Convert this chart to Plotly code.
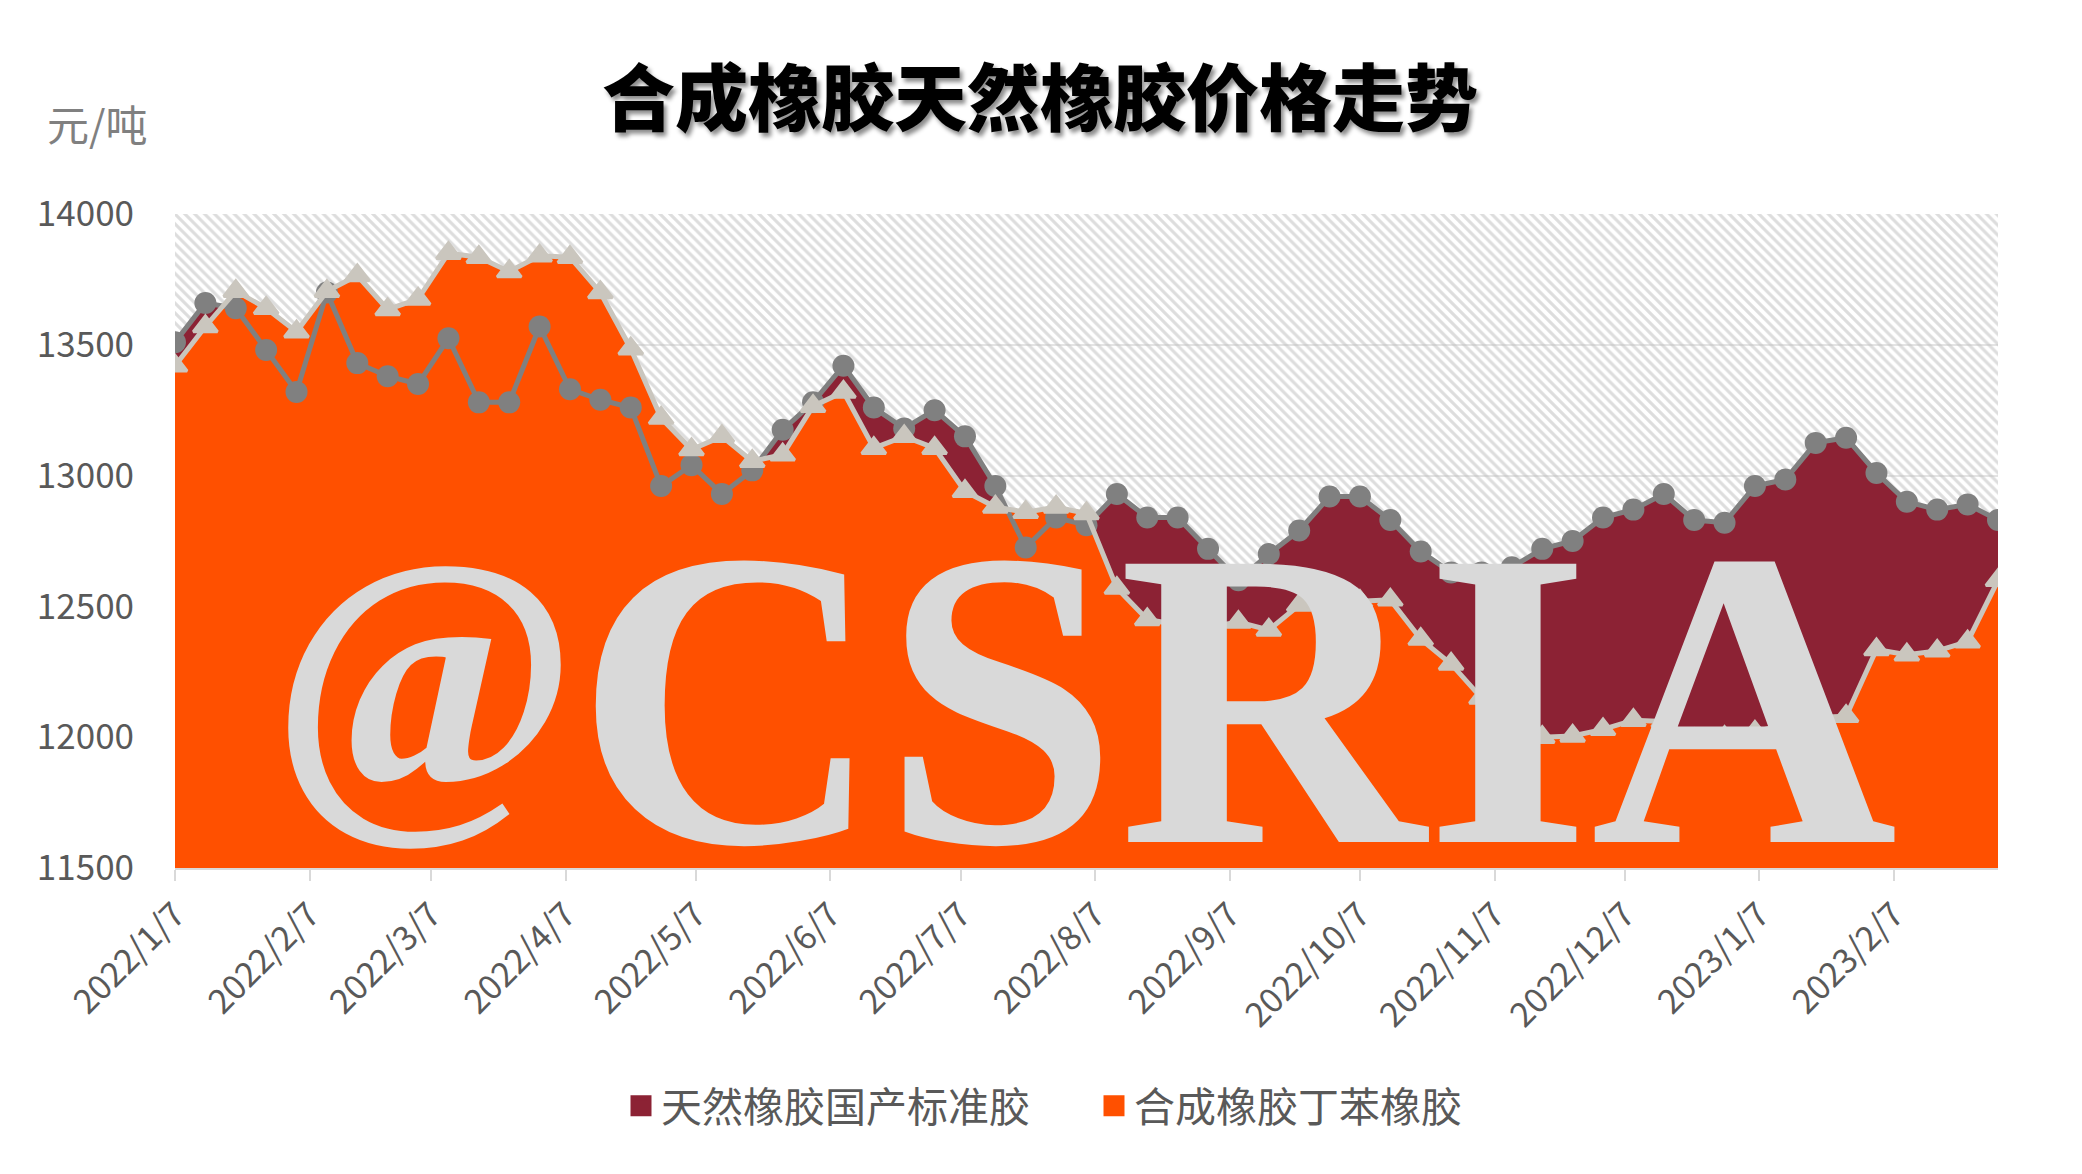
import pandas as pd
import plotly.graph_objects as go

# ---------------- data ----------------
START_DATE = "2022-01-07"          # weekly (Friday) observations
N_WEEKS = 61

natural_rubber = [
    13510, 13660, 13640, 13480, 13320, 13700, 13430, 13380, 13350, 13525,
    13280, 13280, 13570, 13330, 13290, 13260, 12960, 13040, 12930, 13020,
    13175, 13280, 13420, 13260, 13180, 13250, 13150, 12960, 12725, 12840,
    12810, 12930, 12840, 12840, 12720, 12600, 12700, 12790, 12920, 12920,
    12830, 12710, 12630, 12630, 12650, 12720, 12750, 12840, 12870, 12930,
    12830, 12820, 12960, 12985, 13125, 13145, 13010, 12900, 12870, 12890,
    12830,
]
sbr_rubber = [
    13420, 13570, 13705, 13640, 13550, 13705, 13765, 13635, 13675, 13850,
    13835, 13780, 13840, 13835, 13700, 13485, 13220, 13100, 13150, 13055,
    13080, 13265, 13320, 13105, 13150, 13105, 12940, 12880, 12860, 12880,
    12855, 12570, 12450, 12430, 12420, 12440, 12410, 12505, 12500, 12520,
    12525, 12375, 12280, 12150, 12020, 12000, 12005, 12030, 12065, 12060,
    11990, 12000, 12020, 12050, 12075, 12080, 12335, 12315, 12330, 12365,
    12600,
]
series_names = ["天然橡胶国产标准胶", "合成橡胶丁苯橡胶"]
tick_dates = [
    "2022-01-07", "2022-02-07", "2022-03-07", "2022-04-07", "2022-05-07",
    "2022-06-07", "2022-07-07", "2022-08-07", "2022-09-07", "2022-10-07",
    "2022-11-07", "2022-12-07", "2023-01-07", "2023-02-07",
]
tick_labels = [
    "2022/1/7", "2022/2/7", "2022/3/7", "2022/4/7", "2022/5/7", "2022/6/7",
    "2022/7/7", "2022/8/7", "2022/9/7", "2022/10/7", "2022/11/7",
    "2022/12/7", "2023/1/7", "2023/2/7",
]
Y_MIN, Y_MAX, Y_STEP = 11500, 14000, 500
title_text = "合成橡胶天然橡胶价格走势"
unit_text = "元/吨"
watermark_at = "@"
watermark_text = "CSRIA"

dates = pd.date_range(START_DATE, periods=N_WEEKS, freq="7D")

# ---------------- styling / layout ----------------
OFF = 8                      # page offset of the figure inside the browser
W, H = 2082 - OFF, 1174 - OFF
PL, PR, PT, PB = 175, 1998, 214, 868     # plot area in screen pixels
ML, MT = PL - OFF, PT - OFF
MR, MB = W + OFF - PR, H + OFF - PB
PW, PH = PR - PL, PB - PT


def px(xs):
    return (xs - PL) / PW


def py(ys):
    return (PB - ys) / PH


C_NAT = "#8C2234"
C_SBR = "#FF5000"
C_NAT_LINE = "#808080"
C_SBR_LINE = "#CAC6BE"
TXT = "#595959"
FONT = "Noto Sans CJK SC"

fig = go.Figure()

# hatched plot background (spans the axis range)
fig.add_trace(go.Scatter(
    x=dates, y=[Y_MAX] * len(dates), mode="none", fill="tozeroy",
    fillcolor="rgba(0,0,0,0)",
    fillpattern=dict(shape="\\", fgcolor="#bcbcbc", bgcolor="rgba(0,0,0,0)",
                     size=7, solidity=0.45),
    showlegend=False, hoverinfo="skip",
))

# areas
fig.add_trace(go.Scatter(x=dates, y=natural_rubber, mode="none", fill="tozeroy",
                         fillcolor=C_NAT, showlegend=False, hoverinfo="skip"))
fig.add_trace(go.Scatter(x=dates, y=sbr_rubber, mode="none", fill="tozeroy",
                         fillcolor=C_SBR, showlegend=False, hoverinfo="skip"))

# lines with markers
fig.add_trace(go.Scatter(
    x=dates, y=natural_rubber, mode="lines+markers", name=series_names[0],
    line=dict(color=C_NAT_LINE, width=5),
    marker=dict(symbol="circle", size=22, color=C_NAT_LINE),
    showlegend=False,
))
fig.add_trace(go.Scatter(
    x=dates, y=sbr_rubber, mode="lines+markers", name=series_names[1],
    line=dict(color=C_SBR_LINE, width=5),
    marker=dict(symbol="triangle-up", size=21, color=C_SBR_LINE,
                line=dict(color=C_SBR_LINE, width=3)),
    showlegend=False,
))

# legend entries (square swatches)
for name, col in zip(series_names, [C_NAT, C_SBR]):
    fig.add_trace(go.Scatter(
        x=[None], y=[None], mode="markers", name=name,
        marker=dict(symbol="square", size=16, color=col,
                    line=dict(color=col, width=5)),
    ))

fig.update_layout(
    width=W, height=H,
    margin=dict(l=ML, r=MR, t=MT, b=MB, autoexpand=False),
    paper_bgcolor="white", plot_bgcolor="white",
    font=dict(family=FONT, color=TXT, size=34),
    title=dict(
        text=title_text, x=(1040 - OFF) / W, xref="container", xanchor="center",
        y=1 - (99 - OFF) / H, yref="container", yanchor="middle",
        font=dict(family=FONT, size=73, color="black", weight=900,
                  shadow="3px 4px 4px rgba(0,0,0,0.45)"),
    ),
    legend=dict(
        orientation="h", x=px(621), xanchor="left",
        y=py(1106), yanchor="middle",
        font=dict(family=FONT, size=41, color=TXT),
        itemsizing="trace", itemwidth=30,
        entrywidth=428, entrywidthmode="pixels",
    ),
    xaxis=dict(
        type="date", range=[dates[0], dates[-1]],
        tickmode="array", tickvals=tick_dates, ticktext=tick_labels,
        tickangle=-45, tickfont=dict(family=FONT, size=34, color=TXT),
        showgrid=False, showline=True, linecolor="#d9d9d9", linewidth=2,
        ticks="outside", ticklen=11, tickcolor="#d9d9d9", tickwidth=2,
        zeroline=False,
    ),
    yaxis=dict(
        range=[Y_MIN, Y_MAX], dtick=Y_STEP, tick0=Y_MIN, tickformat="d",
        tickfont=dict(family=FONT, size=35, color=TXT),
        showgrid=True, gridcolor="#e4e4e4", gridwidth=2,
        showline=False, zeroline=False, ticks="", ticklabelstandoff=40,
    ),
    annotations=[
        dict(text=unit_text, xref="paper", yref="paper",
             x=px(97), y=py(122),
             xanchor="center", yanchor="middle", showarrow=False,
             font=dict(family=FONT, size=42, color="#808080")),
        dict(text=f"<b>{watermark_at}</b>", xref="paper", yref="paper",
             x=px(424), y=py(674),
             xanchor="center", yanchor="middle", showarrow=False,
             font=dict(family="Liberation Serif", size=330, color="#d9d9d9")),
        dict(text=f"<b>{watermark_text}</b>", xref="paper", yref="paper",
             x=px(1236), y=py(698),
             xanchor="center", yanchor="middle", showarrow=False,
             font=dict(family="Liberation Serif", size=425, color="#d9d9d9")),
    ],
)

fig.write_html("out.html")
